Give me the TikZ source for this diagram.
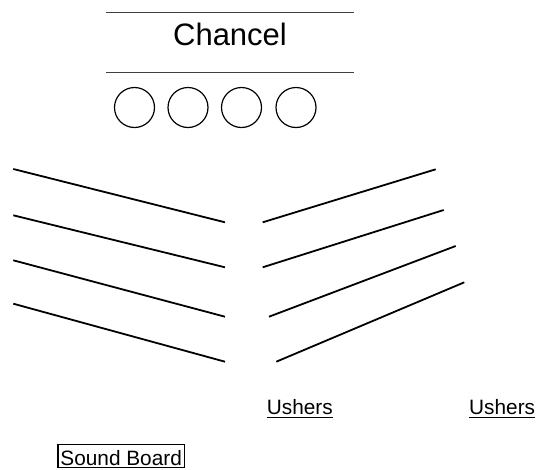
\documentclass[tikz,border=0pt]{standalone}
\usepackage{fontspec}
\setmainfont{Liberation Sans}
\usetikzlibrary{calc}

\tikzset{
  pew/.style={line width=1.8pt},
  rail/.style={line width=0.8pt, color=black!75},
  seat/.style={draw, circle, line width=1.2pt, minimum size=40pt, inner sep=0pt},
  lbl/.style={font=\fontsize{20.8}{24}\selectfont, inner sep=0pt, anchor=base west},
  uline/.style={line width=1.4pt},
}

\begin{document}
\begin{tikzpicture}[x=1pt,y=1pt,yscale=-1,xscale=1]
	\useasboundingbox (0,0) rectangle (538,469);

	% Chancel rails
	\draw [rail] (106,12) -- (354,12);
	\draw [rail] (106,72.3) -- (354,72.3);
	% Text Node
	\node (chancel) at (230,45) [anchor=base, inner sep=0pt, font=\fontsize{31}{36}\selectfont] {Chancel};

	% Chairs
	\foreach \i/\cx in {1/134.5, 2/188, 3/241.5, 4/296}
		\node [seat] (chair\i) at (\cx,107.5) {};

	% Pews, left side
	\draw [pew] (13.3,169) -- (225,222.3);
	\draw [pew] (13.3,215.3) -- (225,267.3);
	\draw [pew] (13.3,260.3) -- (225,316.7);
	\draw [pew] (13.3,303.7) -- (225,361.7);
	% Pews, right side
	\draw [pew] (262.7,222.3) -- (435.7,169.3);
	\draw [pew] (262.7,267.3) -- (443.7,210);
	\draw [pew] (269,316.7) -- (455.7,246);
	\draw [pew] (276.3,361.7) -- (464.3,282.3);

	% Text Node
	\node (ushersA) at (266.7,414.9) [lbl] {Ushers};
	\draw [uline] ($(ushersA.base west)+(0,2.8)$) -- ($(ushersA.base east)+(0,2.8)$);
	% Text Node
	\node (ushersB) at (469,414.9) [lbl] {Ushers};
	\draw [uline] ($(ushersB.base west)+(0,2.8)$) -- ($(ushersB.base east)+(0,2.8)$);

	% Text Node
	\node (board) at (57.3,444) [draw, anchor=north west, line width=1.3pt, inner xsep=2.5pt, inner ysep=1.5pt, text height=19.6pt, text depth=0pt, font=\fontsize{20.8}{24}\selectfont] {Sound Board};

\end{tikzpicture}
\end{document}
